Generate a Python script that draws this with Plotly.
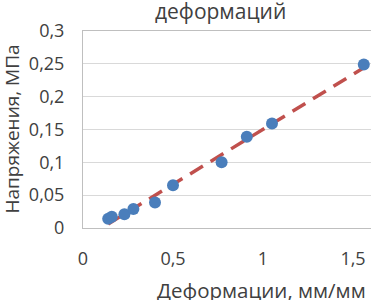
import numpy as np
import plotly.graph_objects as go

strain = [0.14, 0.16, 0.23, 0.28, 0.40, 0.50, 0.77, 0.91, 1.05, 1.56]
stress = [0.014, 0.017, 0.021, 0.029, 0.039, 0.065, 0.100, 0.139, 0.159, 0.249]
title_text = "деформаций"
x_title = "Деформации, мм/мм"
y_title = "Напряжения, МПа"

# linear trendline (least squares, like Excel's linear trendline)
k, b = np.polyfit(strain, stress, 1)
tx = [min(strain), max(strain)]
ty = [k * v + b for v in tx]

FONT = "Open Sans"
TXT = "#404040"

fig = go.Figure()
fig.add_trace(go.Scatter(x=tx, y=ty, mode="lines",
                         line=dict(color="#C0504D", width=3.5, dash="15px,9px"),
                         hoverinfo="skip", showlegend=False, cliponaxis=False))
fig.add_trace(go.Scatter(x=strain, y=stress, mode="markers",
                         marker=dict(color="#4A7EBB", size=12),
                         showlegend=False, cliponaxis=False))

fig.update_layout(
    width=371, height=300,
    margin=dict(l=83, r=0, t=31, b=72, autoexpand=False),
    paper_bgcolor="white", plot_bgcolor="white",
    separators=", ",
    font=dict(family=FONT, size=18, color=TXT),
    showlegend=False,
    annotations=[
        dict(text=title_text, xref="paper", yref="paper", x=(220 - 83) / 288, y=1,
             yshift=20, xanchor="center", yanchor="middle", showarrow=False,
             font=dict(family=FONT, size=21, color=TXT)),
        dict(text=x_title, xref="paper", yref="paper", x=(261 - 83) / 288, y=0,
             yshift=-62, xanchor="center", yanchor="middle", showarrow=False,
             font=dict(family=FONT, size=20.5, color=TXT)),
        dict(text=y_title, xref="paper", yref="paper", x=0, y=0.5,
             xshift=-72, textangle=-90, xanchor="center", yanchor="middle",
             showarrow=False, font=dict(family=FONT, size=19, color=TXT)),
    ],
)
fig.update_xaxes(range=[0, 1.6], tickvals=[0, 0.5, 1, 1.5], showgrid=False,
                 zeroline=False, showline=True, linecolor="#BFBFBF", linewidth=1,
                 mirror=True, ticks="", ticklabelstandoff=14, automargin=False,
                 tickfont=dict(size=18, color=TXT))
fig.update_yaxes(range=[0, 0.3], dtick=0.05, showgrid=True, gridcolor="#D9D9D9",
                 gridwidth=1, zeroline=False, showline=True, linecolor="#BFBFBF",
                 linewidth=1, ticks="", ticklabelstandoff=14, automargin=False,
                 tickfont=dict(size=18, color=TXT))

fig.write_html("out.html", config={"displayModeBar": False},
               post_script="document.body.style.margin='0';document.body.style.overflow='hidden';")
